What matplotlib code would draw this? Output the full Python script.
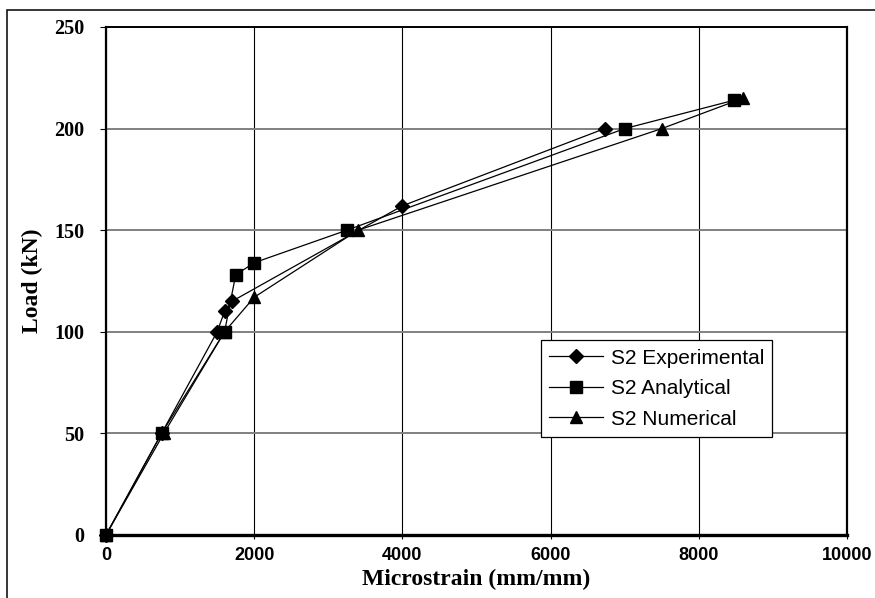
import matplotlib.pyplot as plt
from matplotlib.patches import Rectangle

# values
exp_strain = [0, 750, 1500, 1600, 1700, 4000, 6730]
exp_load = [0, 50, 100, 110, 115, 162, 200]

ana_strain = [0, 750, 1600, 1750, 2000, 3250, 7000, 8480]
ana_load = [0, 50, 100, 128, 134, 150, 200, 214]

num_strain = [0, 780, 1600, 2000, 3400, 7500, 8600]
num_load = [0, 50, 100, 117, 150, 200, 215]

x_ticks = [0, 2000, 4000, 6000, 8000, 10000]
y_ticks = [0, 50, 100, 150, 200, 250]

fig = plt.figure(figsize=(8.75, 5.98), dpi=100)
ax = fig.add_axes([106 / 875, 1 - 535 / 598, 741 / 875, 508 / 598])

# outer frame round the whole chart (cut off at right and bottom)
fig.patches.append(Rectangle((7 / 875, -0.1), 1.2, 1 - 10 / 598 + 0.1,
                             transform=fig.transFigure, fill=False,
                             lw=1.1, ec='black'))

ax.plot(exp_strain, exp_load, color='black', lw=0.9, marker='D', ms=7,
        clip_on=False, zorder=4, label='S2 Experimental')
ax.plot(ana_strain, ana_load, color='black', lw=0.9, marker='s', ms=8,
        clip_on=False, zorder=4, label='S2 Analytical')
ax.plot(num_strain, num_load, color='black', lw=0.9, marker='^', ms=9,
        clip_on=False, zorder=4, label='S2 Numerical')

ax.set_xlim(0, 10000)
ax.set_ylim(0, 250)
ax.set_xticks(x_ticks)
ax.set_yticks(y_ticks)
ax.set_xticklabels([str(v) for v in x_ticks], family='Liberation Sans',
                   fontweight='bold', fontsize=13)
ax.set_yticklabels([str(v) for v in y_ticks], family='Liberation Serif',
                   fontweight='bold', fontsize=14.5)
ax.tick_params(axis='x', direction='out', length=3, width=0.8, pad=6)
ax.tick_params(axis='y', direction='out', length=4.5, width=0.8, pad=11)

ax.set_axisbelow(True)
ax.xaxis.grid(True, color='black', lw=0.8)
ax.yaxis.grid(True, color='#808080', lw=1.4)

for side, w in [('bottom', 2.4), ('left', 1.6), ('top', 1.4), ('right', 1.6)]:
    ax.spines[side].set_linewidth(w)
    ax.spines[side].set_color('black')

ax.set_xlabel('Microstrain (mm/mm)', family='Liberation Serif',
              fontweight='bold', fontsize=17, labelpad=3)
ax.set_ylabel('Load (kN)', family='Liberation Serif',
              fontweight='bold', fontsize=17, labelpad=8)

leg = ax.legend(loc='lower left', bbox_to_anchor=(0.587, 0.193),
                frameon=True, fancybox=False, edgecolor='black',
                framealpha=1, borderaxespad=0, borderpad=0.4,
                labelspacing=0.55, handlelength=2.6, handletextpad=0.35,
                prop={'family': 'Liberation Sans', 'size': 15})
leg.get_frame().set_linewidth(0.9)

fig.savefig('out.png', dpi=100)
